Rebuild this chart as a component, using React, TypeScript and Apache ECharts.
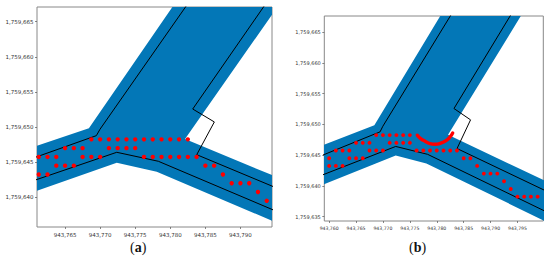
import React, { useEffect, useRef } from "react";
import * as echarts from "echarts";

// Coordinates are offsets from these bases
const X0 = 943000;
const Y0 = 1759000;

// Tick labels
const xTicksA = [943765, 943770, 943775, 943780, 943785, 943790];
const yTicksA = [1759640, 1759645, 1759650, 1759655, 1759660, 1759665];
const xTicksB = [943760, 943765, 943770, 943775, 943780, 943785, 943790, 943795];
const yTicksB = [1759635, 1759640, 1759645, 1759650, 1759655, 1759660, 1759665];

// Blue band outline
const bandOutline = [
  [755, 645.3], [768.4, 649.85], [782.3, 670], [797.3, 670], [782.1, 648.3], [802, 640.05],
  [802, 633.48], [778.07, 643.65], [772.37, 644.93], [755, 638.84],
];

// Black outlines
const upperLine = [[784.2, 670], [769.98, 649.69], [769.46, 648.78], [755, 643.65]];
const lowerLine = [[755, 640.5], [772.37, 646.41], [778.3, 645.13], [802, 635.1]];
const rightLine = [
  [795.3, 670], [783.2, 652.57], [786.28, 650.73], [783.77, 646.07], [802, 638.47],
];

// Red dots, panel (a): [y, x values]
const dotRowsA: [number, number[]][] = [
  [648.25, [768.75, 770, 771.25, 772.5, 773.75, 775, 776.25, 777.5, 778.75, 780, 781.25, 782.5]],
  [647, [765, 766.25, 767.5, 771.25, 772.5, 773.75, 775]],
  [645.75, [761.25, 762.5, 763.75, 767.5, 768.75, 770, 776.25, 777.5, 778.75, 780, 781.25, 782.5, 783.75]],
  [644.5, [763.75, 765, 766.25, 785, 786.25]],
  [643.25, [761.25, 762.5, 787.5]],
  [642, [788.75, 790, 791.25]],
  [640.75, [792.5]],
  [639.5, [793.75]],
];

// Red dots, panel (b)
const dotRowsB: [number, number[]][] = [
  [648.25, [768.75, 770, 771.25, 772.5, 773.75, 775]],
  [647, [765, 766.25, 767.5, 771.25, 772.5, 773.75, 775]],
  [645.75, [761.25, 762.5, 763.75, 767.5, 768.75, 770, 776.25, 777.5, 778.75, 780, 781.25, 782.5, 783.75]],
  [644.5, [758.75, 760, 763.75, 765, 766.25, 785, 786.25]],
  [643.25, [760, 761.25, 762.5, 787.5]],
  [642, [788.75, 790, 791.25]],
  [640.75, [792.5]],
  [639.5, [793.75]],
  [638.25, [795, 796.25, 797.5, 798.75]],
];

// Red arc, panel (b)
const redArc = [
  [776.39, 648.24], [777.01, 647.69], [777.82, 647.26], [778.75, 646.88], [779.68, 646.77],
  [780.73, 646.94], [781.66, 647.31], [782.46, 647.96], [782.96, 648.61],
];

const BLUE = "#0377b7";
const RED = "#ff0000";
const abs = (p: number[]) => [X0 + p[0], Y0 + p[1]];
const flatten = (rows: [number, number[]][]) =>
  rows.flatMap(([y, xs]) => xs.map((x) => [X0 + x, Y0 + y]));
const fmt = (v: number) => Number(v).toLocaleString("en-US");

function axis(kind: "x" | "y", grid: number, min: number, max: number, ticks: number[], size: number) {
  return {
    type: "value",
    gridIndex: grid,
    min,
    max,
    scale: true,
    splitLine: { show: false },
    axisLine: { show: false },
    axisTick: {
      show: true,
      length: 2,
      lineStyle: { color: "#555", width: 0.7 },
      customValues: ticks,
    },
    axisLabel: {
      show: true,
      customValues: ticks,
      formatter: fmt,
      fontFamily: "DejaVu Sans",
      fontSize: size,
      color: "#333",
      margin: kind === "x" ? 4.5 : 3.5,
      hideOverlap: false,
    },
  };
}

function seriesFor(i: number, rows: [number, number[]][], dot: number) {
  const line = (pts: number[][]) => ({
    type: "line",
    xAxisIndex: i,
    yAxisIndex: i,
    data: pts.map(abs),
    showSymbol: false,
    symbol: "none",
    clip: true,
    silent: true,
    z: 3,
    lineStyle: { color: "#000", width: 1 },
  });
  return [
    {
      type: "custom",
      xAxisIndex: i,
      yAxisIndex: i,
      clip: true,
      silent: true,
      z: 2,
      data: [[X0 + bandOutline[0][0], Y0 + bandOutline[0][1]]],
      renderItem: (_: any, api: any) => ({
        type: "polygon",
        shape: { points: bandOutline.map((p) => api.coord(abs(p))) },
        style: { fill: BLUE, stroke: null },
      }),
    },
    line(upperLine),
    line(lowerLine),
    line(rightLine),
    {
      type: "scatter",
      xAxisIndex: i,
      yAxisIndex: i,
      data: flatten(rows),
      symbol: "circle",
      symbolSize: dot,
      clip: true,
      silent: true,
      z: 4,
      itemStyle: { color: RED, opacity: 1 },
    },
  ];
}

export default function App() {
  const ref = useRef<HTMLDivElement>(null);
  useEffect(() => {
    const chart = echarts.init(ref.current!, undefined, { renderer: "svg" });
    const caption = (letter: string, left: number) => ({
      type: "text",
      left,
      top: 240,
      silent: true,
      style: {
        text: `{r|(}{b|${letter}}{r|)}`,
        rich: {
          r: { fontFamily: "Liberation Serif", fontSize: 14, fill: "#111" },
          b: { fontFamily: "Liberation Serif", fontSize: 14, fontWeight: "bold", fill: "#111" },
        },
      },
    });
    chart.setOption({
      animation: false,
      backgroundColor: "#fff",
      grid: [
        { left: 37, top: 7, width: 235, height: 220, show: true, borderColor: "#888", borderWidth: 1, backgroundColor: "#fff" },
        { left: 324.3, top: 16, width: 219, height: 205, show: true, borderColor: "#888", borderWidth: 1, backgroundColor: "#fff" },
      ],
      xAxis: [
        axis("x", 0, X0 + 761, X0 + 794.5, xTicksA, 5.5),
        axis("x", 1, X0 + 759.1, X0 + 799.8, xTicksB, 4.6),
      ],
      yAxis: [
        axis("y", 0, Y0 + 635.77, Y0 + 667.1, yTicksA, 5.5),
        axis("y", 1, Y0 + 634.3, Y0 + 667.6, yTicksB, 5),
      ],
      series: [
        ...seriesFor(0, dotRowsA, 4.4),
        ...seriesFor(1, dotRowsB, 3.9),
        {
          type: "line",
          xAxisIndex: 1,
          yAxisIndex: 1,
          data: redArc.map(abs),
          showSymbol: false,
          symbol: "none",
          smooth: true,
          silent: true,
          z: 5,
          lineStyle: { color: RED, width: 3.4, cap: "round" },
        },
      ],
      graphic: [caption("a", 130), caption("b", 409)],
    });
    return () => chart.dispose();
  }, []);
  return (
    <div
      ref={ref}
      style={{ position: "absolute", left: 0, top: 0, width: 550, height: 261 }}
    />
  );
}
